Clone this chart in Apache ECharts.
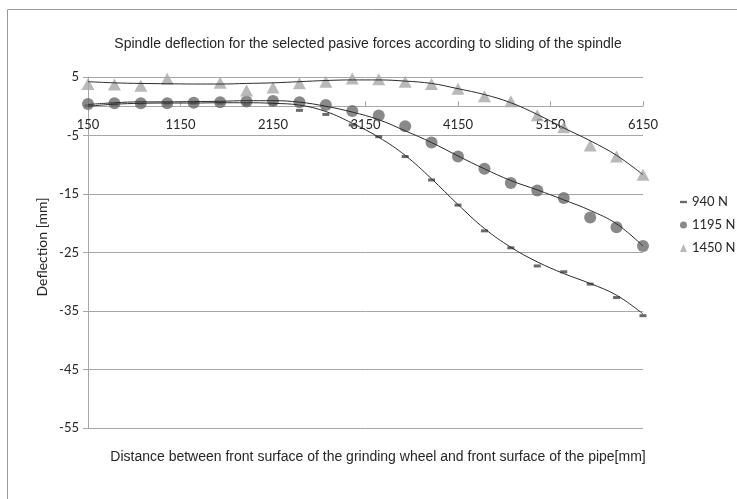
<!DOCTYPE html>
<html><head><meta charset="utf-8">
<script src="https://cdn.jsdelivr.net/npm/echarts@6/dist/echarts.min.js"></script>
<style>html,body{margin:0;padding:0;background:#fff}#c{width:737px;height:499px}</style>
</head><body><div id="c"></div>
<script>
// Distance [mm]
const distances = [150, 436, 721, 1007, 1293, 1579, 1864, 2150, 2436, 2721, 3007, 3293, 3579, 3864, 4150, 4436, 4721, 5007, 5293, 5579, 5864, 6150];
const xTickValues = [150, 1150, 2150, 3150, 4150, 5150, 6150];
const yTickValues = [-55, -45, -35, -25, -15, -5, 5];
const seriesNames = ['940 N', '1195 N', '1450 N'];
// Deflection [mm] – measured points
const f940 = [0.1, 0.3, 0.4, 0.4, 0.5, 0.5, 0.3, 0.4, -0.7, -1.4, -3.2, -5.2, -8.6, -12.6, -16.9, -21.3, -24.2, -27.3, -28.3, -30.4, -32.7, -35.8];
const f1195 = [0.4, 0.5, 0.5, 0.5, 0.6, 0.7, 0.8, 0.9, 0.7, 0.2, -0.8, -1.6, -3.4, -6.2, -8.6, -10.7, -13.1, -14.4, -15.7, -19.0, -20.7, -23.9];
const f1450 = [3.8, 3.7, 3.5, 4.7, 5.3, 4.0, 2.7, 3.2, 3.95, 4.2, 4.75, 4.6, 4.2, 3.8, 3.0, 1.7, 0.85, -1.55, -3.6, -6.7, -8.6, -11.7];
// Trend lines
const t940 = [0.0, 0.35, 0.5, 0.55, 0.55, 0.6, 0.6, 0.5, 0.2, -0.9, -2.9, -5.3, -8.4, -12.4, -16.8, -20.9, -24.1, -26.6, -28.6, -30.3, -32.3, -35.5];
const t1195 = [0.3, 0.6, 0.75, 0.75, 0.8, 0.85, 0.95, 0.95, 0.7, 0.0, -1.0, -2.3, -4.2, -6.2, -8.5, -10.7, -12.7, -14.3, -16.0, -17.8, -20.1, -23.9];
const t1450 = [4.2, 4.0, 3.9, 3.85, 3.8, 3.8, 3.9, 4.0, 4.2, 4.4, 4.5, 4.5, 4.3, 3.9, 3.0, 2.0, 0.6, -1.4, -3.7, -5.9, -8.4, -11.7];

const pairs = arr => distances.map((d, i) => [d, arr[i]]);

const txt = '#262626', gridc = '#a6a6a6';
const tickFont = 'Lato, "Open Sans", sans-serif';
const titleFont = '"Liberation Sans", Arial, sans-serif';
const W = 737, H = 499, gridBottom = 71;

const chart = echarts.init(document.getElementById('c'), null, {renderer: 'canvas'});
const trendStyle = {color: '#2b2b2b', width: 1};
chart.setOption({
  animation: false,
  backgroundColor: '#fff',
  grid: {left: 88, right: 94, top: 77, bottom: gridBottom},
  legend: {
    orient: 'vertical', left: 675, top: 190, itemGap: 9,
    itemWidth: 7, itemHeight: 8,
    textStyle: {color: txt, fontSize: 13, fontFamily: tickFont, lineHeight: 14},
    data: [
      {name: seriesNames[0], icon: 'path://M0,0H6V2H0Z'},
      {name: seriesNames[1], icon: 'circle'},
      {name: seriesNames[2], icon: 'triangle'}
    ]
  },
  xAxis: {
    type: 'value', min: xTickValues[0], max: xTickValues[xTickValues.length - 1],
    position: 'bottom', offset: 0,
    axisLine: {show: true, onZero: false, lineStyle: {color: gridc, width: 1}},
    axisTick: {show: true, inside: true, length: 5, lineStyle: {color: gridc}, customValues: xTickValues},
    axisLabel: {color: txt, fontSize: 13, fontFamily: tickFont, margin: 12, customValues: xTickValues,
      formatter: v => String(v)},
    splitLine: {show: false}
  },
  yAxis: {
    type: 'value', min: yTickValues[0], max: yTickValues[yTickValues.length - 1],
    axisLine: {show: true, onZero: false, lineStyle: {color: gridc, width: 1}},
    axisTick: {show: true, length: 5, lineStyle: {color: gridc}, customValues: yTickValues},
    axisLabel: {color: txt, fontSize: 13, fontFamily: tickFont, margin: 9, customValues: yTickValues,
      formatter: v => String(v)},
    splitLine: {show: true, lineStyle: {color: gridc, width: 1}}
  },
  series: [
    {name: seriesNames[0], type: 'scatter', data: pairs(f940),
     symbol: 'rect', symbolSize: [7, 3], itemStyle: {color: '#454545'}, z: 3},
    {name: seriesNames[1], type: 'scatter', data: pairs(f1195),
     symbol: 'circle', symbolSize: 12, itemStyle: {color: '#6b6b6b'}, z: 3},
    {name: seriesNames[2], type: 'scatter', data: pairs(f1450),
     symbol: 'triangle', symbolSize: [13, 12], itemStyle: {color: '#a8a8a8'}, z: 3},
    {name: 'trend940', type: 'line', data: pairs(t940), smooth: 0.4,
     showSymbol: false, lineStyle: trendStyle, z: 4, silent: true},
    {name: 'trend1195', type: 'line', data: pairs(t1195), smooth: 0.4,
     showSymbol: false, lineStyle: trendStyle, z: 4, silent: true},
    {name: 'trend1450', type: 'line', data: pairs(t1450), smooth: 0.4,
     showSymbol: false, lineStyle: trendStyle, z: 4, silent: true}
  ],
  graphic: [
    {type: 'rect', shape: {x: 7.5, y: 9.5, width: 800, height: 600}, style: {fill: 'none', stroke: '#9a9a9a', lineWidth: 1}, silent: true, z: 0},
    {type: 'text', x: 368, y: 44, style: {text: 'Spindle deflection for the selected pasive forces according to sliding of the spindle',
      fill: txt, fontSize: 14, fontFamily: titleFont, align: 'center', verticalAlign: 'middle'}},
    {type: 'text', x: 378, y: 457, style: {text: 'Distance between front surface of the grinding wheel and front surface of the pipe[mm]',
      fill: txt, fontSize: 14, fontFamily: titleFont, align: 'center', verticalAlign: 'middle'}},
    {type: 'text', x: 42, y: 247, rotation: Math.PI / 2, style: {text: 'Deflection [mm]',
      fill: txt, fontSize: 14, fontFamily: tickFont, align: 'center', verticalAlign: 'middle'}}
  ]
});
// place the x axis on the y = 0 line, measured through the y scale
const zeroPx = chart.convertToPixel({yAxisIndex: 0}, 0);
const bottomPx = H - gridBottom;
chart.setOption({xAxis: {offset: -(bottomPx - zeroPx)}});
</script></body></html>
